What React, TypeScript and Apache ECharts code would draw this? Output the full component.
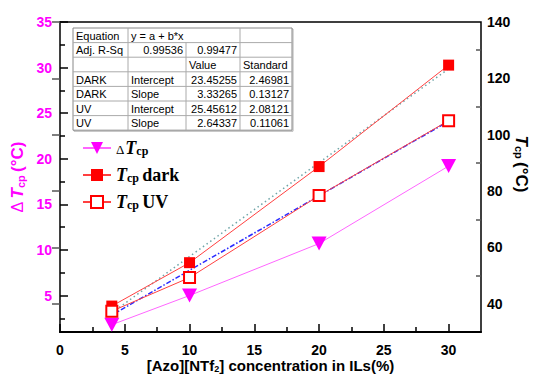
import React, { useEffect, useRef } from "react";
import * as echarts from "echarts";

// ---- data ----
const concentration = [4, 10, 20, 30];
const deltaTcp = [1.8, 5.0, 10.7, 19.2];
const tcpDark = [39.2, 54.6, 88.7, 124.7];
const tcpUV = [37.4, 49.3, 78.4, 105.0];
const fitX = [4, 30];
const fitDark = [36.8, 123.4];
const fitUV = [36.0, 104.8];

const xMajorTicks = [0, 5, 10, 15, 20, 25, 30];
const xMinorTicks = [2.5, 7.5, 12.5, 17.5, 22.5, 27.5];
const leftMajorTicks = [5, 10, 15, 20, 25, 30, 35];
const leftMinorTicks = [2.5, 7.5, 12.5, 17.5, 22.5, 27.5, 32.5];
const rightMajorTicks = [40, 60, 80, 100, 120, 140];
const rightMinorTicks = [50, 70, 90, 110, 130];

const tableRows = [
  ["Equation", "y = a + b*x", "", ""],
  ["Adj. R-Sq", "0.99536", "0.99477", ""],
  ["", "", "Value", "Standard"],
  ["DARK", "Intercept", "23.45255", "2.46981"],
  ["DARK", "Slope", "3.33265", "0.13127"],
  ["UV", "Intercept", "25.45612", "2.08121"],
  ["UV", "Slope", "2.64337", "0.11061"],
];

const MAGENTA = "#ff00ff";
const RED = "#ff0000";
const SANS = "Liberation Sans, Arial, sans-serif";
const SERIF = "Liberation Serif, Times New Roman, serif";

function buildTable() {
  const colEdges = [73, 128, 186, 240, 292];
  const top = 28;
  const rowH = 14.6;
  const bottom = top + rowH * tableRows.length;
  const children: any[] = [];
  children.push({
    type: "rect",
    shape: { x: colEdges[0] + 1, y: top + 1, width: colEdges[4] - colEdges[0], height: bottom - top },
    style: { fill: "none", stroke: "#b0b0b0", lineWidth: 1 },
  });
  children.push({
    type: "rect",
    shape: { x: colEdges[0], y: top, width: colEdges[4] - colEdges[0], height: bottom - top },
    style: { fill: "#fff", stroke: "#888", lineWidth: 1 },
  });
  for (let k = 1; k < tableRows.length; k++) {
    const y = top + k * rowH;
    children.push({
      type: "line",
      shape: { x1: colEdges[0], y1: y, x2: colEdges[4], y2: y },
      style: { stroke: "#aaa", lineWidth: 1 },
    });
  }
  [1, 3].forEach((c) =>
    children.push({
      type: "line",
      shape: { x1: colEdges[c], y1: top, x2: colEdges[c], y2: bottom },
      style: { stroke: "#aaa", lineWidth: 1 },
    })
  );
  children.push({
    type: "line",
    shape: { x1: colEdges[2], y1: top + rowH, x2: colEdges[2], y2: bottom },
    style: { stroke: "#aaa", lineWidth: 1 },
  });
  tableRows.forEach((row, r) => {
    const yc = top + r * rowH + rowH / 2 + 0.5;
    row.forEach((txt, c) => {
      if (!txt) return;
      let x = colEdges[c] + 3;
      let align: any = "left";
      const rightAligned =
        (c === 1 && r === 1) || (c === 2 && r !== 2) || (c === 3 && r !== 2);
      if (rightAligned) {
        x = colEdges[c + 1] - 3;
        align = "right";
      }
      children.push({
        type: "text",
        x,
        y: yc,
        style: {
          text: txt,
          align,
          verticalAlign: "middle",
          fontSize: 11,
          fontFamily: SANS,
          fill: "#000",
        },
      });
    });
  });
  return { type: "group", children, z: 50 };
}

const legendNames = ["ΔTcp", "Tcp dark", "Tcp UV"];

export default function App() {
  const ref = useRef<HTMLDivElement>(null);
  useEffect(() => {
    document.body.style.margin = "0";
    const chart = echarts.init(ref.current!, null, { renderer: "svg" });
    const minorAxisBase = {
      axisLine: { show: false },
      axisLabel: { show: false },
      splitLine: { show: false },
    };
    const option: any = {
      animation: false,
      backgroundColor: "#fff",
      grid: {
        left: 60,
        right: 52,
        top: 22,
        bottom: 44,
        show: true,
        borderColor: "#000",
        borderWidth: 1.5,
        outerBoundsMode: "none",
      },
      legend: {
        data: legendNames,
        orient: "vertical",
        left: 77,
        top: 134,
        itemWidth: 28,
        itemHeight: 15,
        itemGap: 9,
        formatter: (name: string) => {
          if (name === "ΔTcp") return "{d|Δ}{t|T}{s|cp}";
          if (name === "Tcp dark") return "{t|T}{s|cp} {w|dark}";
          return "{t|T}{s|cp} {w|UV}";
        },
        textStyle: {
          color: "#000",
          rich: {
            d: { fontFamily: SERIF, fontSize: 13, lineHeight: 18, padding: [3, 1, 0, 0] },
            t: { fontFamily: SERIF, fontSize: 18, fontStyle: "italic", fontWeight: "bold", lineHeight: 18 },
            s: { fontFamily: SERIF, fontSize: 12, fontWeight: "bold", lineHeight: 18, verticalAlign: "bottom" },
            w: { fontFamily: SERIF, fontSize: 18, fontWeight: "bold", lineHeight: 18 },
          },
        },
      },
      xAxis: [
        {
          type: "value",
          position: "bottom",
          min: 0,
          max: 32.5,
          axisLine: { show: true, lineStyle: { color: "#000", width: 2 } },
          axisTick: { inside: true, length: 8, customValues: xMajorTicks, lineStyle: { color: "#000", width: 1.5 } },
          axisLabel: {
            customValues: xMajorTicks,
            margin: 11,
            fontSize: 14,
            fontWeight: "bold",
            fontFamily: SANS,
            color: "#000",
          },
          splitLine: { show: false },
          name: "[Azo][NTf{sub|2}] concentration in ILs(%)",
          nameLocation: "middle",
          nameGap: 26,
          nameMoveOverlap: false,
          nameTextStyle: {
            fontSize: 15,
            fontWeight: "bold",
            fontFamily: SANS,
            color: "#000",
            rich: {
              sub: { fontSize: 9, fontWeight: "bold", fontFamily: SANS, verticalAlign: "bottom", padding: [4, 0, 0, 0] },
            },
          },
        },
        {
          type: "value",
          position: "bottom",
          min: 0,
          max: 32.5,
          ...minorAxisBase,
          axisTick: { show: true, inside: true, length: 5, customValues: xMinorTicks, lineStyle: { color: "#000", width: 1.5 } },
        },
      ],
      yAxis: [
        {
          type: "value",
          position: "left",
          min: 1,
          max: 35,
          axisLine: { show: true, lineStyle: { color: "#000", width: 2 } },
          axisTick: { inside: true, length: 8, customValues: leftMajorTicks, lineStyle: { color: "#000", width: 1.5 } },
          axisLabel: {
            customValues: leftMajorTicks,
            margin: 8,
            fontSize: 14,
            fontWeight: "bold",
            fontFamily: SANS,
            color: MAGENTA,
          },
          splitLine: { show: false },
          name: "{d|Δ} {t|T}{s|cp} {b|(°C)}",
          nameLocation: "middle",
          nameGap: 34,
          nameMoveOverlap: false,
          nameTextStyle: {
            color: MAGENTA,
            rich: {
              d: { fontSize: 16, fontFamily: SANS, color: MAGENTA },
              t: { fontSize: 17, fontFamily: SANS, fontWeight: "bold", fontStyle: "italic", color: MAGENTA },
              s: { fontSize: 11, fontFamily: SANS, fontWeight: "bold", color: MAGENTA, verticalAlign: "bottom" },
              b: { fontSize: 17, fontFamily: SANS, fontWeight: "bold", color: MAGENTA },
            },
          },
        },
        {
          type: "value",
          position: "right",
          min: 30,
          max: 140,
          axisLine: { show: true, lineStyle: { color: "#555", width: 1.5 } },
          axisTick: { inside: true, length: 8, customValues: rightMajorTicks, lineStyle: { color: "#555", width: 1.5 } },
          axisLabel: {
            customValues: rightMajorTicks,
            margin: 6,
            fontSize: 14,
            fontWeight: "bold",
            fontFamily: SANS,
            color: "#000",
          },
          splitLine: { show: false },
          name: "{t|T}{s|cp} {b|(°C)}",
          nameLocation: "middle",
          nameRotate: -90,
          nameGap: 32,
          nameMoveOverlap: false,
          nameTextStyle: {
            color: "#000",
            padding: [0, 26, 0, 0],
            rich: {
              t: { fontSize: 17, fontFamily: SANS, fontWeight: "bold", fontStyle: "italic" },
              s: { fontSize: 11, fontFamily: SANS, fontWeight: "bold", verticalAlign: "bottom" },
              b: { fontSize: 17, fontFamily: SANS, fontWeight: "bold" },
            },
          },
        },
        {
          type: "value",
          position: "left",
          min: 1,
          max: 35,
          ...minorAxisBase,
          axisTick: { show: true, inside: true, length: 5, customValues: leftMinorTicks, lineStyle: { color: "#000", width: 1.5 } },
        },
        {
          type: "value",
          position: "right",
          min: 30,
          max: 140,
          ...minorAxisBase,
          axisTick: { show: true, inside: true, length: 5, customValues: rightMinorTicks, lineStyle: { color: "#555", width: 1.5 } },
        },
      ],
      series: [
        {
          name: "fit dark",
          type: "line",
          xAxisIndex: 0,
          yAxisIndex: 1,
          data: fitX.map((x, i) => [x, fitDark[i]]),
          symbol: "none",
          lineStyle: { color: "#6fa5a8", width: 1.5, type: [1.5, 3] },
          silent: true,
        },
        {
          name: "fit UV",
          type: "line",
          xAxisIndex: 0,
          yAxisIndex: 1,
          data: fitX.map((x, i) => [x, fitUV[i]]),
          symbol: "none",
          lineStyle: { color: "#2a2aff", width: 1.5, type: [5, 2, 1.5, 2] },
          silent: true,
        },
        {
          name: "ΔTcp",
          type: "line",
          xAxisIndex: 0,
          yAxisIndex: 0,
          data: concentration.map((x, i) => [x, deltaTcp[i]]),
          symbol: "triangle",
          symbolRotate: 180,
          symbolSize: [15, 14],
          itemStyle: { color: MAGENTA },
          lineStyle: { color: "#ff66ff", width: 1 },
        },
        {
          name: "Tcp dark",
          type: "line",
          xAxisIndex: 0,
          yAxisIndex: 1,
          data: concentration.map((x, i) => [x, tcpDark[i]]),
          symbol: "rect",
          symbolSize: 11,
          itemStyle: { color: RED },
          lineStyle: { color: "#ff4040", width: 1 },
        },
        {
          name: "Tcp UV",
          type: "line",
          xAxisIndex: 0,
          yAxisIndex: 1,
          data: concentration.map((x, i) => [x, tcpUV[i]]),
          symbol: "emptyRect",
          symbolSize: 11,
          itemStyle: { color: RED, borderWidth: 1.5 },
          lineStyle: { color: "#ff4040", width: 1 },
        },
      ],
      graphic: [buildTable()],
    };
    chart.setOption(option);
    return () => chart.dispose();
  }, []);
  return <div ref={ref} style={{ width: 533, height: 376 }} />;
}
